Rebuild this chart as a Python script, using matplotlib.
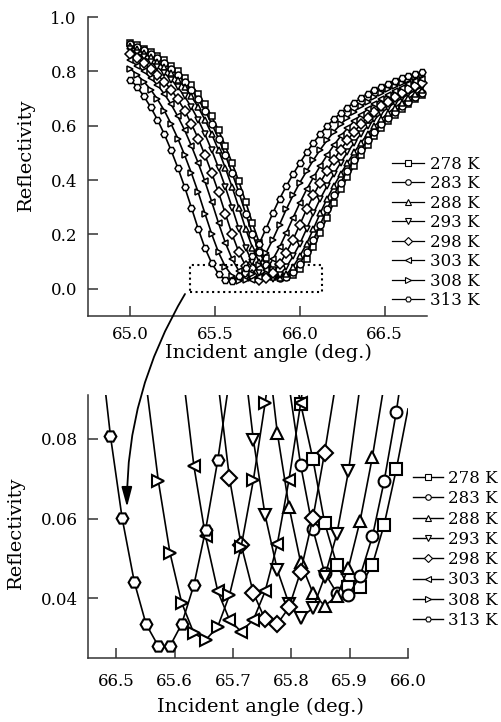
"""
SPR reflectivity curves at several temperatures, with a zoom on the dip region.
"""

import matplotlib.pyplot as plt
from matplotlib.lines import Line2D
from matplotlib.patches import Rectangle, FancyArrowPatch

plt.rcParams['font.family'] = 'DejaVu Serif'

# ============ data ============
temps = ['278 K', '283 K', '288 K', '293 K', '298 K', '303 K', '308 K', '313 K']
markers = ['s', 'o', '^', 'v', 'D', '<', '>', 'H']

# full scan (upper panel)
angle_top = [65.00, 65.04, 65.08, 65.12, 65.16, 65.20, 65.24, 65.28, 65.32, 65.36,
             65.40, 65.44, 65.48, 65.52, 65.56, 65.60, 65.64, 65.68, 65.72, 65.76,
             65.80, 65.84, 65.88, 65.92, 65.96, 66.00, 66.04, 66.08, 66.12, 66.16,
             66.20, 66.24, 66.28, 66.32, 66.36, 66.40, 66.44, 66.48, 66.52, 66.56,
             66.60, 66.64, 66.68, 66.72]

r278 = [0.906, 0.896, 0.884, 0.871, 0.856, 0.840, 0.821, 0.800, 0.776, 0.750,
        0.717, 0.679, 0.634, 0.584, 0.526, 0.463, 0.395, 0.320, 0.242, 0.170,
        0.112, 0.071, 0.047, 0.043, 0.050, 0.073, 0.110, 0.153, 0.206, 0.262,
        0.316, 0.366, 0.410, 0.452, 0.491, 0.528, 0.561, 0.590, 0.617, 0.640,
        0.661, 0.680, 0.697, 0.712]
r283 = [0.900, 0.889, 0.877, 0.863, 0.848, 0.830, 0.810, 0.787, 0.762, 0.733,
        0.697, 0.656, 0.607, 0.553, 0.492, 0.426, 0.355, 0.277, 0.201, 0.137,
        0.087, 0.056, 0.041, 0.044, 0.063, 0.093, 0.135, 0.181, 0.236, 0.293,
        0.344, 0.391, 0.433, 0.474, 0.512, 0.546, 0.578, 0.605, 0.630, 0.652,
        0.672, 0.689, 0.705, 0.720]
r288 = [0.892, 0.881, 0.867, 0.852, 0.835, 0.815, 0.794, 0.770, 0.742, 0.708,
        0.668, 0.622, 0.569, 0.510, 0.445, 0.375, 0.299, 0.221, 0.152, 0.098,
        0.062, 0.042, 0.040, 0.053, 0.081, 0.121, 0.166, 0.221, 0.278, 0.331,
        0.378, 0.422, 0.463, 0.502, 0.537, 0.570, 0.598, 0.624, 0.646, 0.667,
        0.685, 0.701, 0.716, 0.730]
r293 = [0.881, 0.867, 0.852, 0.835, 0.815, 0.794, 0.770, 0.742, 0.708, 0.668,
        0.622, 0.569, 0.510, 0.445, 0.375, 0.299, 0.221, 0.151, 0.097, 0.060,
        0.039, 0.037, 0.051, 0.080, 0.120, 0.166, 0.221, 0.278, 0.331, 0.378,
        0.422, 0.463, 0.502, 0.537, 0.570, 0.598, 0.624, 0.646, 0.667, 0.685,
        0.701, 0.716, 0.730, 0.743]
r298 = [0.863, 0.848, 0.830, 0.810, 0.787, 0.762, 0.733, 0.697, 0.656, 0.607,
        0.553, 0.492, 0.426, 0.355, 0.277, 0.201, 0.135, 0.084, 0.051, 0.034,
        0.038, 0.058, 0.090, 0.133, 0.181, 0.236, 0.293, 0.344, 0.391, 0.433,
        0.474, 0.512, 0.546, 0.578, 0.605, 0.630, 0.652, 0.672, 0.689, 0.705,
        0.720, 0.734, 0.746, 0.758]
r303 = [0.840, 0.821, 0.800, 0.776, 0.750, 0.717, 0.679, 0.634, 0.584, 0.526,
        0.463, 0.395, 0.320, 0.242, 0.170, 0.110, 0.066, 0.040, 0.032, 0.043,
        0.068, 0.108, 0.153, 0.206, 0.262, 0.316, 0.366, 0.410, 0.452, 0.491,
        0.528, 0.561, 0.590, 0.617, 0.640, 0.661, 0.680, 0.697, 0.712, 0.726,
        0.739, 0.752, 0.763, 0.773]
r308 = [0.810, 0.787, 0.762, 0.733, 0.697, 0.656, 0.607, 0.553, 0.492, 0.426,
        0.355, 0.277, 0.201, 0.134, 0.082, 0.048, 0.030, 0.034, 0.055, 0.088,
        0.132, 0.181, 0.236, 0.293, 0.344, 0.391, 0.433, 0.474, 0.512, 0.546,
        0.578, 0.605, 0.630, 0.652, 0.672, 0.689, 0.705, 0.720, 0.734, 0.746,
        0.758, 0.769, 0.778, 0.787]
r313 = [0.770, 0.742, 0.708, 0.668, 0.622, 0.569, 0.510, 0.445, 0.375, 0.299,
        0.221, 0.150, 0.094, 0.055, 0.032, 0.030, 0.046, 0.077, 0.119, 0.166,
        0.221, 0.278, 0.331, 0.378, 0.422, 0.463, 0.502, 0.537, 0.570, 0.598,
        0.624, 0.646, 0.667, 0.685, 0.701, 0.716, 0.730, 0.743, 0.755, 0.766,
        0.775, 0.784, 0.792, 0.799]
top_curves = [r278, r283, r288, r293, r298, r303, r308, r313]

# dip region (lower panel), finer sampling
angle_zoom = [65.469, 65.490, 65.510, 65.531, 65.551, 65.572, 65.592, 65.612, 65.633,
              65.653, 65.674, 65.694, 65.714, 65.735, 65.755, 65.776, 65.796, 65.816,
              65.837, 65.857, 65.878, 65.898, 65.918, 65.939, 65.959, 65.980, 66.000]

z278 = [0.104, 0.0888, 0.0749, 0.0590, 0.0484, 0.0429, 0.0429, 0.0484, 0.0584, 0.0724, 0.0875]
z283 = [0.0935, 0.0734, 0.0573, 0.0464, 0.0413, 0.0408, 0.0456, 0.0555, 0.0693, 0.0868, 0.107]
z288 = [0.108, 0.0815, 0.0630, 0.0490, 0.0413, 0.0381, 0.0405, 0.0477, 0.0595, 0.0755, 0.0935, 0.116]
z293 = [0.106, 0.0797, 0.0609, 0.0471, 0.0386, 0.0351, 0.0375, 0.0453, 0.0561, 0.0719, 0.0935, 0.118]
z298 = [0.0946, 0.0701, 0.0534, 0.0413, 0.0347, 0.0335, 0.0377, 0.0467, 0.0601, 0.0765, 0.0955, 0.118]
z303 = [0.099, 0.0732, 0.0555, 0.0417, 0.0346, 0.0316, 0.0346, 0.0417, 0.0536, 0.0697, 0.0889, 0.112]
z308 = [0.118, 0.094, 0.0695, 0.0514, 0.0389, 0.0312, 0.0295, 0.0329, 0.0408, 0.0529, 0.0697,
        0.0889, 0.112]
z313 = [0.108, 0.0807, 0.0601, 0.0440, 0.0335, 0.0280, 0.0280, 0.0335, 0.0433, 0.0571, 0.0747,
        0.0950, 0.117]
zoom_curves = [z278, z283, z288, z293, z298, z303, z308, z313]
zoom_start = [16, 16, 14, 12, 10, 7, 3, 0]   # index into angle_zoom
# ==============================


def style_axes(ax):
    for s in ['top', 'right']:
        ax.spines[s].set_visible(False)
    for s in ['left', 'bottom']:
        ax.spines[s].set_linewidth(1.1)
        ax.spines[s].set_color('#333333')
    ax.tick_params(direction='in', length=7, width=1.1, color='#333333', labelsize=12)


W, H = 501, 722
fig = plt.figure(figsize=(W / 100, H / 100), dpi=100)

# ---- upper panel ----
ax1 = fig.add_axes([88 / W, 1 - 316 / H, 339 / W, 299 / H])
for vals, m in zip(top_curves, markers):
    ax1.plot(angle_top, vals, color='k', lw=1.2, marker=m, ms=5, mfc='white', mec='k', mew=1.1)

ax1.add_patch(Rectangle((65.35, -0.012), 0.78, 0.098, fill=False, ls=':', lw=1.5, ec='k'))

ax1.set_xlim(64.75, 66.75)
ax1.set_ylim(-0.1, 1.0)
ax1.set_xticks([65.0, 65.5, 66.0, 66.5])
ax1.set_xticklabels(['65.0', '65.5', '66.0', '66.5'])
ax1.set_yticks([0.0, 0.2, 0.4, 0.6, 0.8, 1.0])
ax1.set_yticklabels(['0.0', '0.2', '0.4', '0.6', '0.8', '1.0'])
style_axes(ax1)
ax1.tick_params(axis='x', pad=7)
ax1.tick_params(axis='y', pad=8)
ax1.set_xlabel('Incident angle (deg.)', fontsize=14)
ax1.set_ylabel('Reflectivity', fontsize=14)
ax1.xaxis.set_label_coords(0.531, -0.092)
ax1.yaxis.set_label_coords(-0.156, 0.54)

h_top = [Line2D([], [], color='k', lw=0.9, marker=m, ms=4, mfc='white', mew=0.8) for m in markers]
ax1.legend(h_top, temps, loc='center left', bbox_to_anchor=(392 / W, 1 - 232.5 / H),
           bbox_transform=fig.transFigure, frameon=False, fontsize=12, handlelength=1.9,
           handletextpad=0.35, labelspacing=0.15, borderpad=0, borderaxespad=0)

# ---- lower panel ----
ax2 = fig.add_axes([88 / W, 1 - 658 / H, 320 / W, 263 / H])
for vals, start, m in zip(zoom_curves, zoom_start, markers):
    xs = angle_zoom[start:start + len(vals)]
    ax2.plot(xs, vals, color='k', lw=1.2, marker=m, ms=8.5, mfc='white', mec='k', mew=1.5,
             markevery=slice(1, -1))

ax2.set_xlim(65.4515, 66.0)
ax2.set_ylim(0.025, 0.091)
ax2.set_xticks([65.5, 65.6, 65.7, 65.8, 65.9, 66.0])
ax2.set_xticklabels(['66.5', '65.6', '65.7', '65.8', '65.9', '66.0'])
ax2.set_yticks([0.04, 0.06, 0.08])
ax2.set_yticklabels(['0.04', '0.06', '0.08'])
style_axes(ax2)
ax2.tick_params(axis='x', pad=11)
ax2.tick_params(axis='y', pad=7)
ax2.set_xlabel('Incident angle (deg.)', fontsize=14)
ax2.set_ylabel('Reflectivity', fontsize=14)
ax2.xaxis.set_label_coords(0.5375, -0.15)
ax2.yaxis.set_label_coords(-0.197, 0.475)

h_zoom = [Line2D([], [], color='k', lw=1.0, marker=m, ms=4, mfc='white', mew=0.8) for m in markers]
ax2.legend(h_zoom, temps, loc='center left', bbox_to_anchor=(413 / W, 1 - 549.5 / H),
           bbox_transform=fig.transFigure, frameon=False, fontsize=12, handlelength=1.8,
           handletextpad=0.3, labelspacing=0.2, borderpad=0, borderaxespad=0)

# curved arrow from the dashed box down into the zoom panel
arrow = FancyArrowPatch((185 / W, 1 - 294 / H), (127 / W, 1 - 507 / H),
                        transform=fig.transFigure, connectionstyle='arc3,rad=0.14',
                        arrowstyle='-|>,head_length=0.6,head_width=0.16', mutation_scale=20,
                        lw=1.3, color='k', shrinkA=0, shrinkB=0)
fig.add_artist(arrow)

plt.savefig('out.png', dpi=100)
